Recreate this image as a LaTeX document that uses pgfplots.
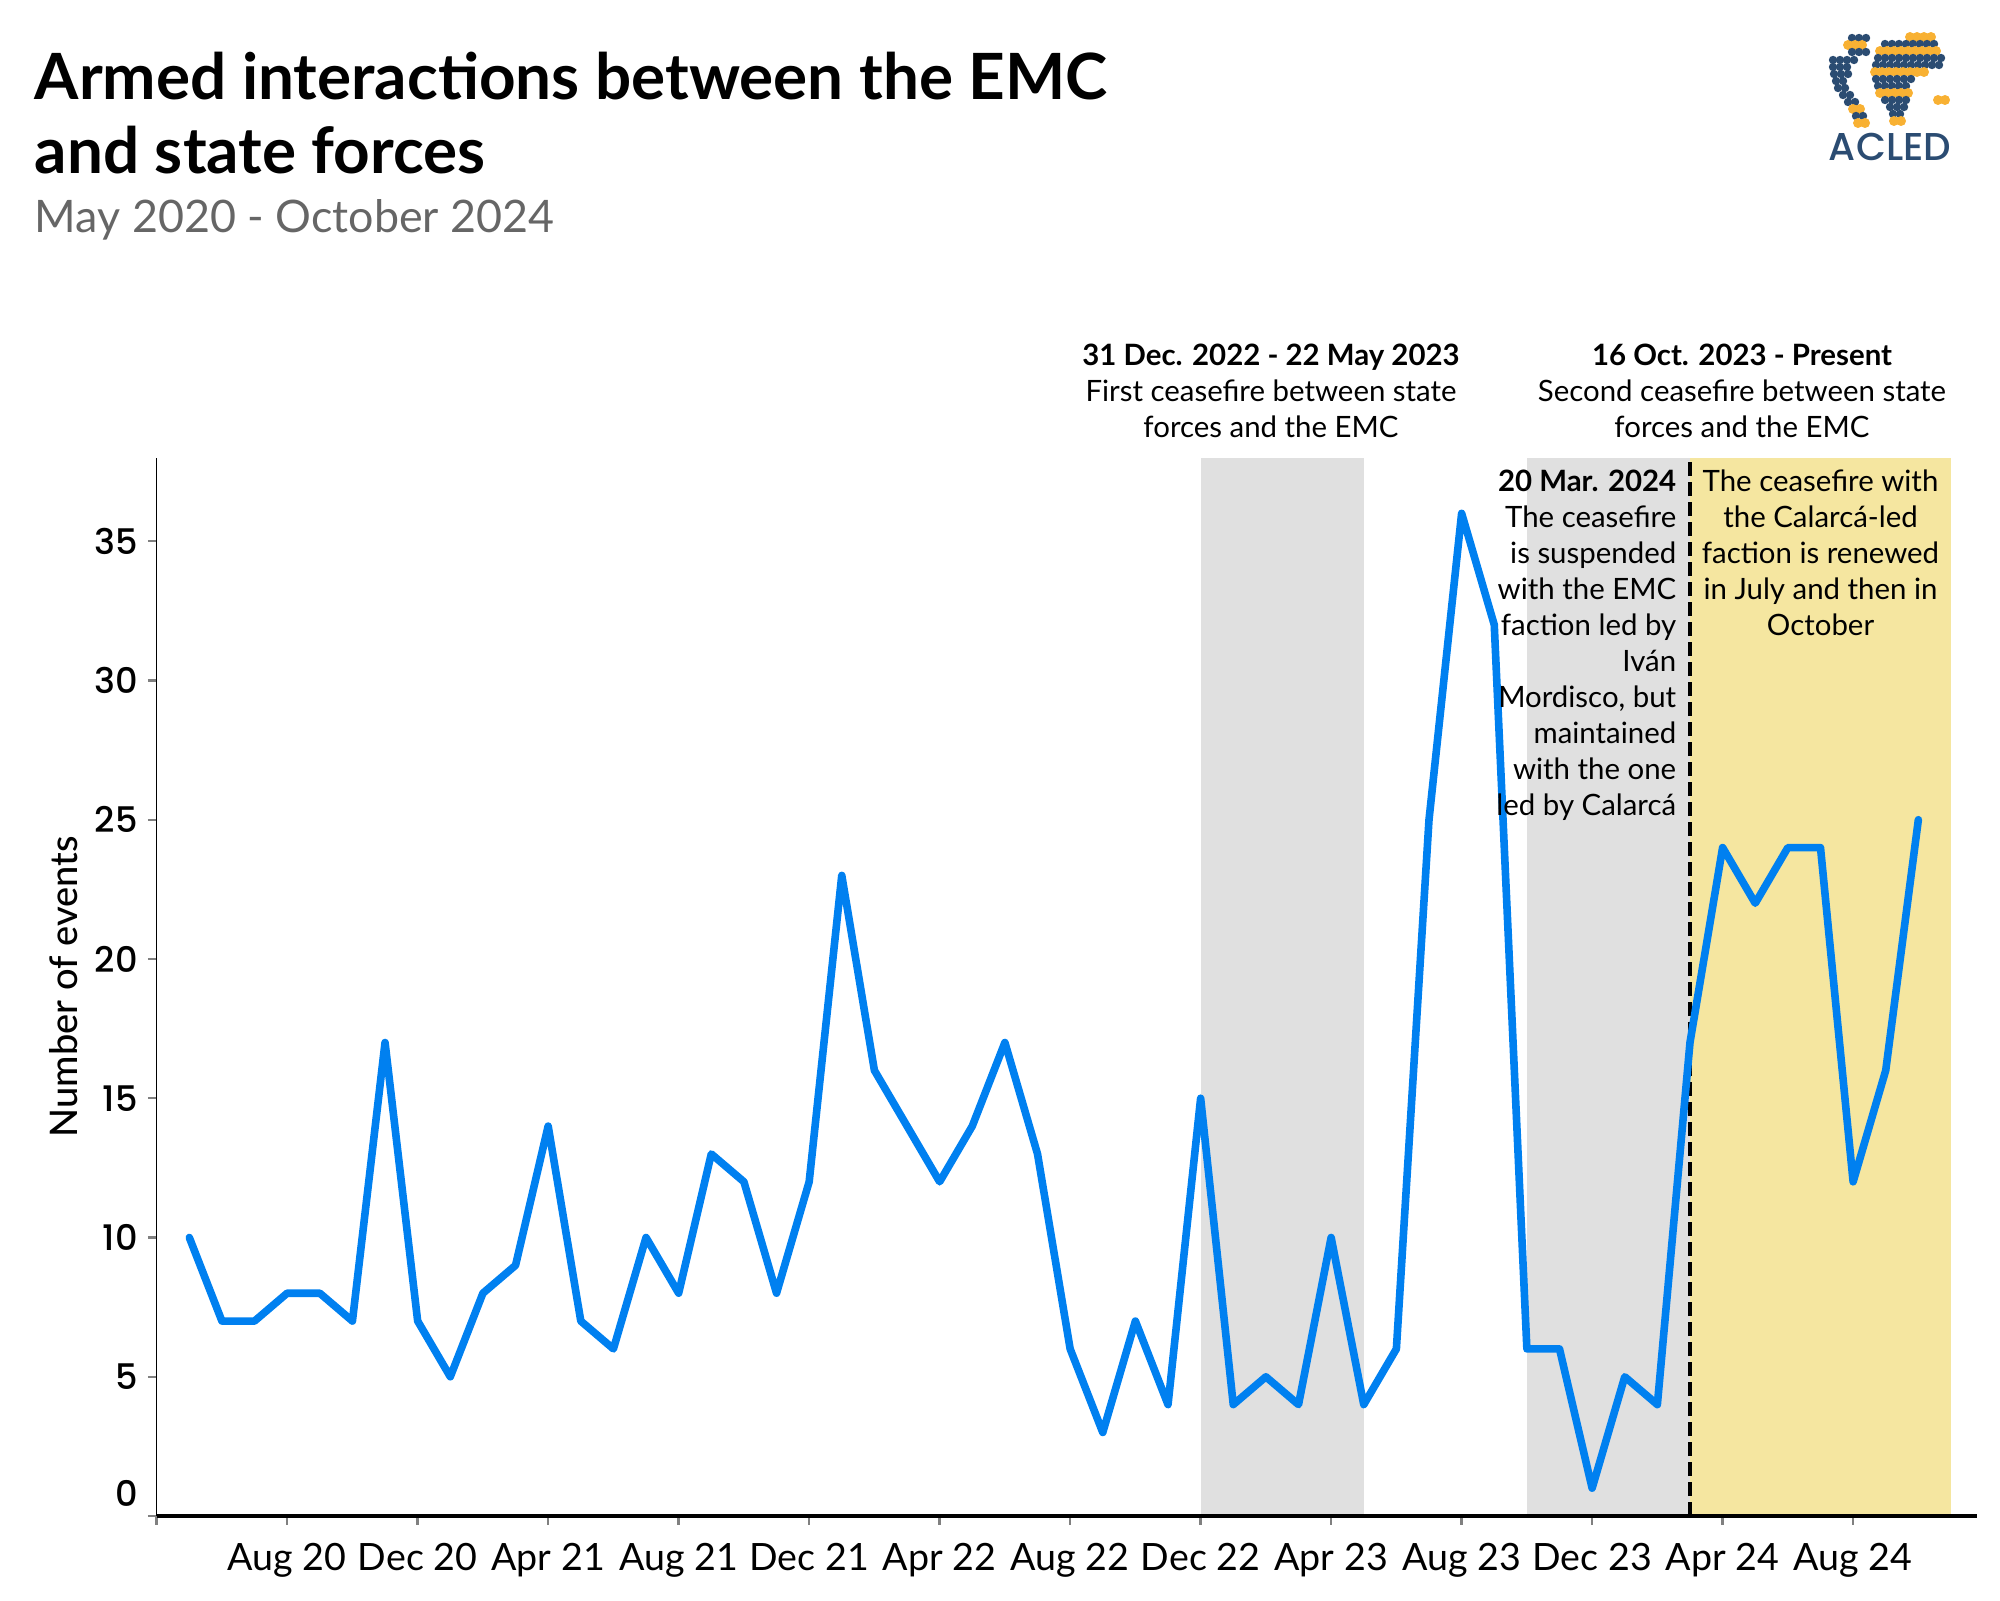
\documentclass[border=0pt]{standalone}
\usepackage{fontspec}
\setmainfont{Lato}
\IfFontExistsTF{Poppins Medium}{\newfontfamily\poppins{Poppins Medium}}{\newfontfamily\poppins{Poppins}[FakeBold=0.3]}
\IfFontExistsTF{Lato Medium}{\newfontfamily\latomed{Lato Medium}}{\newfontfamily\latomed{Lato}[FakeBold=0.3]}
\usepackage{pgfplots}
\pgfplotsset{compat=1.18}
\definecolor{lineblue}{HTML}{0080F0}
\definecolor{shadegray}{HTML}{E0E0E0}
\definecolor{shadeyellow}{HTML}{F5E6A0}
\definecolor{acledblue}{HTML}{2B4C72}
\definecolor{acledorange}{HTML}{F8B133}
\definecolor{subgray}{HTML}{666666}
\begin{document}
\begin{tikzpicture}
\useasboundingbox (0,0) rectangle (500pt,400pt);
\begin{axis}[
  at={(39.17pt,21pt)}, anchor=south west,
  scale only axis, width=455.1pt, height=264.6pt,
  xmin=-1, xmax=54.8, ymin=0, ymax=38,
  axis x line*=bottom, axis y line*=left,
  x axis line style={line width=1.1pt,-},
  y axis line style={line width=0.4pt,-},
  axis on top=true,
  tick align=outside,
  major tick length=2.2pt,
  xtick={-1,3,7,11,15,19,23,27,31,35,39,43,47,51},
  xticklabels={,Aug 20,Dec 20,Apr 21,Aug 21,Dec 21,Apr 22,Aug 22,Dec 22,Apr 23,Aug 23,Dec 23,Apr 24,Aug 24},
  ytick={0,5,10,15,20,25,30,35},
  yticklabels={\raisebox{11.4pt}{0},5,10,15,20,25,30,35},
  xtick style={draw=gray, line width=0.6pt},
  ytick style={draw=gray, line width=0.6pt},
  xticklabel style={font=\fontsize{9.4}{10}\selectfont, yshift=-1.2pt},
  yticklabel style={font=\poppins\fontsize{8.8}{10}\selectfont, xshift=1pt},
  /pgf/number format/assume math mode=true,
  ylabel={Number of events},
  ylabel style={font=\latomed\fontsize{9.5}{10}\selectfont, at={(axis description cs:-0.051,0.5)}, anchor=center},
]
\addplot[fill=shadegray, draw=none, forget plot] coordinates {(31,38) (36,38)} \closedcycle;
\addplot[fill=shadegray, draw=none, forget plot] coordinates {(41,38) (46,38)} \closedcycle;
\addplot[fill=shadeyellow, draw=none, forget plot] coordinates {(46,38) (54,38)} \closedcycle;
\addplot[black, line width=1pt, dash pattern=on 3.5pt off 1.5pt, mark=none, forget plot] coordinates {(46,0) (46,38)};
\addplot[lineblue, line width=1.9pt, line join=round, line cap=round, mark=none] table {
x y
0 10
1 7
2 7
3 8
4 8
5 7
6 17
7 7
8 5
9 8
10 9
11 14
12 7
13 6
14 10
15 8
16 13
17 12
18 8
19 12
20 23
21 16
22 14
23 12
24 14
25 17
26 13
27 6
28 3
29 7
30 4
31 15
32 4
33 5
34 4
35 10
36 4
37 6
38 25
39 36
40 32
41 6
42 6
43 1
44 5
45 4
46 17
47 24
48 22
49 24
50 24
51 12
52 16
53 25
};
\end{axis}
\begin{scope}[x=0.25pt, y=-0.25pt, shift={(0pt,400pt)}]
% titles
\node[anchor=base west, inner sep=0, font=\bfseries\fontsize{15.95}{19}\selectfont] at (34,100) {Armed interactions between the EMC};
\node[anchor=base west, inner sep=0, font=\bfseries\fontsize{15.95}{19}\selectfont] at (34,174) {and state forces};
\node[anchor=base west, inner sep=0, font=\fontsize{11.2}{13}\selectfont, text=subgray] at (34,233) {May 2020 - October 2024};
% top annotations
\begin{scope}[every node/.style={anchor=base, inner sep=0, font=\fontsize{7.35}{9}\selectfont}]
\node[font=\bfseries\fontsize{7.35}{9}\selectfont] at (1271,365) {31 Dec. 2022 - 22 May 2023};
\node at (1271,401) {First ceasefire between state};
\node at (1271,437) {forces and the EMC};
\node[font=\bfseries\fontsize{7.35}{9}\selectfont] at (1742,365) {16 Oct. 2023 - Present};
\node at (1742,401) {Second ceasefire between state};
\node at (1742,437) {forces and the EMC};
\node at (1820.5,491) {The ceasefire with};
\node at (1820.5,527) {the Calarcá-led};
\node at (1820.5,563) {faction is renewed};
\node at (1820.5,599) {in July and then in};
\node at (1820.5,635) {October};
\end{scope}
\begin{scope}[every node/.style={anchor=base east, inner sep=0, font=\fontsize{7.35}{9}\selectfont}]
\node[font=\bfseries\fontsize{7.35}{9}\selectfont] at (1677,491) {20 Mar. 2024};
\node at (1677,527) {The ceasefire};
\node at (1677,563) {is suspended};
\node at (1677,599) {with the EMC};
\node at (1677,635) {faction led by};
\node at (1677,671) {Iván};
\node at (1677,707) {Mordisco, but};
\node at (1677,743) {maintained};
\node at (1677,779) {with the one};
\node at (1677,815) {led by Calarcá};
\end{scope}
% logo
\foreach \yy/\xa/\xb in {38/1852/1866, 45/1848/1866, 52/1852/1866, 60/1833/1856, 67/1833/1850, 74/1834/1848, 81/1836/1846, 88/1838/1846, 95/1843/1850, 102/1848/1856, 109/1853/1862, 116/1856/1866, 123/1858/1866,
  37/1910/1935, 44/1885/1940, 51/1880/1942, 58/1878/1945, 65/1876/1943, 72/1875/1930, 79/1876/1915, 86/1878/1912, 93/1880/1910, 100/1885/1908, 107/1890/1905, 114/1893/1903, 121/1894/1901, 100/1938/1945} {
  \pgfmathtruncatemacro\xs{\xa+7}
  \foreach \xx in {\xa,\xs,...,\xb} {
    \pgfmathtruncatemacro\cc{mod(\xx*3+\yy*5,7)}
    \ifnum\cc<2
      \fill[acledorange] (\xx,\yy) circle (1.25pt);
    \else
      \fill[acledblue] (\xx,\yy) circle (1.05pt);
    \fi
  }
}
\node[anchor=base, inner sep=0, font=\poppins\fontsize{9.7}{11}\selectfont, text=acledblue] at (1890,161) {ACLED};
\end{scope}
\end{tikzpicture}
\end{document}
